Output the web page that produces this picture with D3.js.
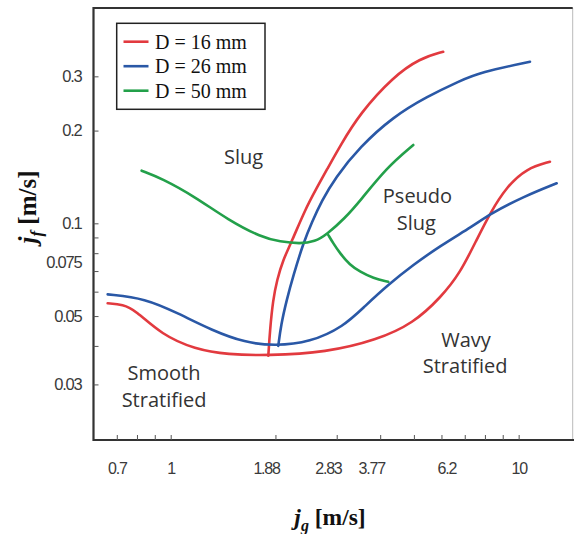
<!DOCTYPE html>
<html><head><meta charset="utf-8">
<script src="https://cdn.jsdelivr.net/npm/d3@7"></script>
<style>body{margin:0;background:#fff}</style>
</head><body>
<svg id="chart" width="576" height="534"></svg>
<script>
// ---- data (jg [m/s], jf [m/s]) ----
const xTickValues = [0.7,0.8,0.9,1,2,3,4,5,6,7,8,9,10];
const xTickLabels = [0.7,1,1.88,2.83,3.77,6.2,10];
const yTickValues = [0.03,0.04,0.05,0.06,0.07,0.08,0.09,0.1,0.2,0.3];
const yTickLabels = [0.03,0.05,0.075,0.1,0.2,0.3];
const seriesNames = ["D = 16 mm","D = 26 mm","D = 50 mm"];
const seriesColors = ["#e23a3f","#2a58a6","#23a04a"];

const d16Lower = [[0.659,0.0550],[0.73,0.0545],[0.790,0.0523],[0.942,0.0435],[1.174,0.0390],[1.464,0.0375],[1.887,0.0372],[2.808,0.0381],[3.908,0.0418],[4.98,0.0473],[6.0,0.0578],[6.78,0.0688],[7.57,0.0883],[8.27,0.1078],[9.24,0.1315],[10.54,0.1509],[12.30,0.1585]];
const d16Branch = [[1.908,0.0372],[1.929,0.0450],[1.968,0.0564],[2.021,0.0655],[2.102,0.0760],[2.231,0.0876],[2.432,0.1105],[2.627,0.1302],[2.808,0.149],[3.066,0.1782],[3.499,0.2276],[4.362,0.2992],[5.205,0.3434],[6.07,0.3606]];
const d26Lower = [[0.659,0.0588],[0.844,0.0571],[1.052,0.0510],[1.311,0.0450],[1.635,0.0410],[1.994,0.0400],[2.513,0.0411],[3.133,0.0461],[3.617,0.0539],[4.240,0.0635],[4.970,0.0732],[5.94,0.0844],[7.39,0.0980],[8.27,0.1072],[10.31,0.122],[12.86,0.1349]];
const d26Branch = [[2.038,0.0400],[2.075,0.0468],[2.154,0.0564],[2.25,0.0675],[2.405,0.0863],[2.547,0.1010],[2.716,0.1181],[2.966,0.1403],[3.499,0.1773],[4.362,0.2219],[5.44,0.2576],[6.78,0.2900],[7.74,0.3090],[10.78,0.3347]];
const d50Main = [[0.825,0.1482],[0.942,0.140],[1.174,0.122],[1.464,0.1025],[1.826,0.0900],[2.062,0.0872],[2.352,0.0858],[2.598,0.0872],[2.808,0.0920],[3.169,0.1040],[3.499,0.1181],[4.176,0.1517],[4.98,0.1796]];
const d50Branch = [[2.838,0.0916],[2.933,0.0861],[3.066,0.0799],[3.275,0.0732],[3.499,0.0697],[3.820,0.0663],[4.220,0.0646]];

const regionNames = ["Slug","Pseudo","Slug","Smooth","Stratified","Wavy","Stratified"];
const regionPos = [[1.62,0.1557],[5.12,0.1160],[5.08,0.0950],[0.957,0.0310],[0.957,0.0254],[7.06,0.0398],[7.02,0.0326]];

// ---- layout ----
const svg = d3.select("#chart");
const x = d3.scaleLog().domain([0.6,14.3]).range([93.5,572.7]);
const y = d3.scaleLog().domain([0.0198,0.5]).range([440,8]);

// frame
svg.append("line").attr("x1",572.7).attr("x2",572.7).attr("y1",8).attr("y2",440).attr("stroke","#bbb").attr("stroke-width",1);
svg.append("path").attr("d",`M572.7,8H93.5V440H574`).attr("fill","none").attr("stroke","#333").attr("stroke-width",2.2);

const tickFont = "'Liberation Sans', Arial, sans-serif";
// x ticks (inward)
const gxT = svg.append("g").attr("transform","translate(0,440)")
  .call(d3.axisBottom(x).tickValues(xTickValues).tickSize(-5).tickFormat(""));
gxT.select(".domain").remove();
gxT.selectAll("line").attr("stroke","#555").attr("stroke-width",1);
// x labels
const gxL = svg.append("g").attr("transform","translate(0,440)")
  .call(d3.axisBottom(x).tickValues(xTickLabels).tickSize(0).tickPadding(23).tickFormat(d=>String(d)));
gxL.select(".domain").remove();
gxL.selectAll("text").attr("font-family",tickFont).attr("font-size",16).attr("letter-spacing","-1.2px").attr("fill","#3a3a3a");

// y ticks (inward)
const gyT = svg.append("g").attr("transform","translate(93.5,0)")
  .call(d3.axisLeft(y).tickValues(yTickValues).tickSize(-5).tickFormat(""));
gyT.select(".domain").remove();
gyT.selectAll("line").attr("stroke","#555").attr("stroke-width",1);
const gyL = svg.append("g").attr("transform","translate(93.5,0)")
  .call(d3.axisLeft(y).tickValues(yTickLabels).tickSize(0).tickPadding(12).tickFormat(d=>String(d)));
gyL.select(".domain").remove();
gyL.selectAll("text").attr("font-family",tickFont).attr("font-size",16.5).attr("letter-spacing","-1.2px").attr("fill","#3a3a3a");

// curves
const line = d3.line().x(d=>x(d[0])).y(d=>y(d[1])).curve(d3.curveBasis);
const curves = [[d16Lower,0],[d16Branch,0],[d26Lower,1],[d26Branch,1],[d50Main,2],[d50Branch,2]];
svg.append("g").selectAll("path").data(curves).join("path")
  .attr("d",d=>line(d[0])).attr("fill","none")
  .attr("stroke",d=>seriesColors[d[1]]).attr("stroke-width",2.6).attr("stroke-linecap","round");

// region labels
svg.append("g").selectAll("text").data(regionNames).join("text")
  .attr("x",(d,i)=>x(regionPos[i][0])).attr("y",(d,i)=>y(regionPos[i][1]))
  .attr("text-anchor","middle").attr("font-family","'Open Sans', sans-serif").attr("font-size",20)
  .attr("fill","#333").text(d=>d);

// legend
const lg = svg.append("g");
lg.append("rect").attr("x",116.7).attr("y",23.3).attr("width",148.3).attr("height",86).attr("fill","#fff").attr("stroke","#222").attr("stroke-width",1.5);
seriesNames.forEach((n,i)=>{
  const ly = 41.7 + i*24.5;
  lg.append("line").attr("x1",123.5).attr("x2",148.5).attr("y1",ly).attr("y2",ly).attr("stroke",seriesColors[i]).attr("stroke-width",2.6);
  lg.append("text").attr("x",155).attr("y",ly+6.8).attr("font-family","'Liberation Serif', 'Times New Roman', serif").attr("font-size",20).attr("fill","#111").text(n);
});

// axis titles
const serif = "'Liberation Serif', 'Times New Roman', serif";
const xt = svg.append("text").attr("x",330).attr("y",525).attr("text-anchor","middle").attr("font-family",serif).attr("font-size",23.5).attr("font-weight","bold").attr("fill","#111");
xt.append("tspan").attr("font-style","italic").text("j");
xt.append("tspan").attr("font-style","italic").attr("font-size",16).attr("dy",6).text("g");
xt.append("tspan").attr("dy",-6).text(" [m/s]");
const yt = svg.append("text").attr("transform","translate(36,207) rotate(-90)").attr("text-anchor","middle").attr("font-family",serif).attr("font-size",25).attr("font-weight","bold").attr("fill","#111");
yt.append("tspan").attr("font-style","italic").text("j");
yt.append("tspan").attr("font-style","italic").attr("font-size",17).attr("dy",6).text("f");
yt.append("tspan").attr("dy",-6).text(" [m/s]");
</script>
</body></html>
